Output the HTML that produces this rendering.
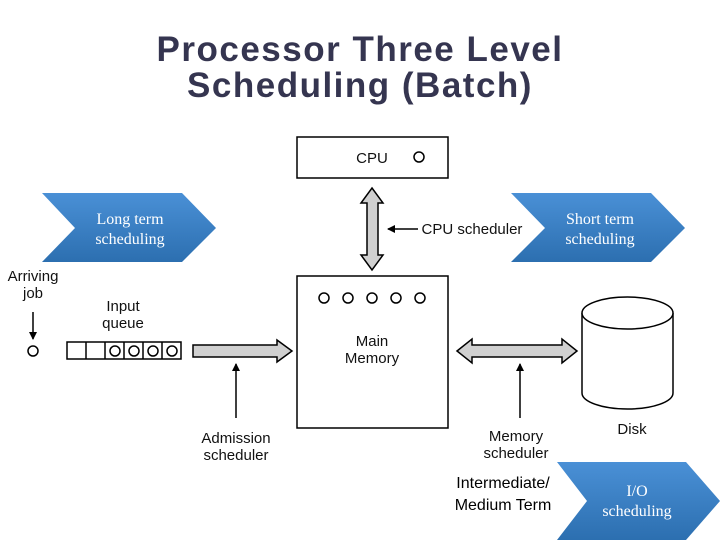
<!DOCTYPE html>
<html><head><style>
body{margin:0;width:720px;height:540px;background:#fff;overflow:hidden;position:relative}
.t{position:absolute;left:0;width:720px;text-align:center;font:bold 35px/36px "Liberation Sans",sans-serif;letter-spacing:1.5px;color:#353550}
</style></head><body>
<div class="t" style="top:32px">Processor Three Level</div>
<div class="t" style="top:68px">Scheduling (Batch)</div>
<svg width="720" height="540" style="position:absolute;left:0;top:0" font-family="Liberation Sans, sans-serif">
<defs>
<linearGradient id="g" x1="0" y1="0" x2="0" y2="1"><stop offset="0" stop-color="#4a90d6"/><stop offset="1" stop-color="#2c6fb0"/></linearGradient>
<marker id="a" markerWidth="8" markerHeight="8" refX="7" refY="4" orient="auto" markerUnits="userSpaceOnUse"><path d="M0,0 L8,4 L0,8 Z" fill="#000"/></marker>
</defs>
<polygon points="42,193 182,193 216,228 182,262 42,262 75,228" fill="url(#g)"/>
<polygon points="511,193 651,193 685,228 651,262 511,262 545,228" fill="url(#g)"/>
<polygon points="557,462 686,462 720,501 686,540 557,540 587,501" fill="url(#g)"/>
<g font-family="Liberation Serif, serif" font-size="16" fill="#fff" text-anchor="middle">
<text x="130" y="224">Long term</text><text x="130" y="244">scheduling</text>
<text x="600" y="224">Short term</text><text x="600" y="244">scheduling</text>
<text x="637" y="496">I/O</text><text x="637" y="516">scheduling</text>
</g>
<g fill="none" stroke="#000" stroke-width="1.5">
<rect x="297" y="137" width="151" height="41"/>
<rect x="297" y="276" width="151" height="152"/>
<circle cx="419" cy="157" r="5"/>
<circle cx="324" cy="298" r="5"/><circle cx="348" cy="298" r="5"/><circle cx="372" cy="298" r="5"/><circle cx="396" cy="298" r="5"/><circle cx="420" cy="298" r="5"/>
<circle cx="33" cy="351" r="5"/>
<rect x="67" y="342" width="114" height="17"/>
<line x1="86" y1="342" x2="86" y2="359"/><line x1="105" y1="342" x2="105" y2="359"/><line x1="124" y1="342" x2="124" y2="359"/><line x1="143" y1="342" x2="143" y2="359"/><line x1="162" y1="342" x2="162" y2="359"/>
<circle cx="115" cy="351" r="5"/><circle cx="134" cy="351" r="5"/><circle cx="153" cy="351" r="5"/><circle cx="172" cy="351" r="5"/>
<path d="M582,313 L582,393 A45.5,16 0 0 0 673,393 L673,313"/>
<ellipse cx="627.5" cy="313" rx="45.5" ry="16" fill="#fff"/>
<line x1="33" y1="312" x2="33" y2="339" marker-end="url(#a)"/>
<line x1="236" y1="418" x2="236" y2="364" marker-end="url(#a)"/>
<line x1="520" y1="418" x2="520" y2="364" marker-end="url(#a)"/>
<line x1="418" y1="229" x2="388" y2="229" marker-end="url(#a)"/>
</g>
<g fill="#d0d0d0" stroke="#000" stroke-width="1.5">
<polygon points="193,345 277,345 277,340 292,351 277,362 277,357 193,357"/>
<polygon points="457,351 472,339 472,345 562,345 562,339 577,351 562,363 562,357 472,357 472,363"/>
<polygon points="372,188 383,203 378,203 378,255 383,255 372,270 361,255 367,255 367,203 361,203"/>
</g>
<g font-size="15" fill="#111" text-anchor="middle">
<text x="372" y="163">CPU</text>
<text x="472" y="234">CPU scheduler</text>
<text x="372" y="346">Main</text><text x="372" y="363">Memory</text>
<text x="33" y="281">Arriving</text><text x="33" y="298">job</text>
<text x="123" y="311">Input</text><text x="123" y="328">queue</text>
<text x="236" y="443">Admission</text><text x="236" y="460">scheduler</text>
<text x="516" y="441">Memory</text><text x="516" y="458">scheduler</text>
<text x="632" y="434">Disk</text>
</g>
<g font-size="16" fill="#000" text-anchor="middle">
<text x="503" y="488">Intermediate/</text><text x="503" y="510">Medium Term</text>
</g>
</svg>
</body></html>
